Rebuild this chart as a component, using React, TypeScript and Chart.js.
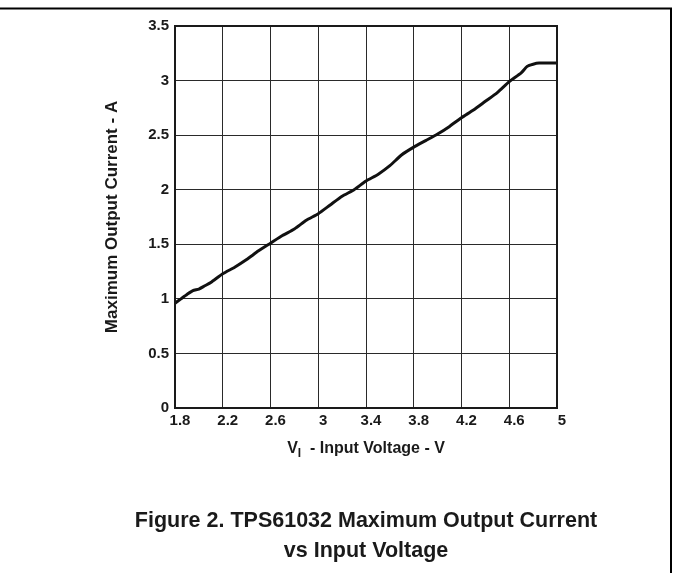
import React, { useEffect, useRef } from "react";
import { Chart, registerables } from "chart.js";

Chart.register(...registerables);

// ---- data ----
const inputVoltage = [
  1.8, 1.85, 1.9, 1.95, 2.0, 2.05, 2.1, 2.2, 2.3, 2.4, 2.5, 2.6, 2.7, 2.8, 2.9, 3.0,
  3.1, 3.2, 3.3, 3.4, 3.5, 3.6, 3.7, 3.8, 3.9, 4.0, 4.1, 4.2, 4.3, 4.4, 4.5, 4.6,
  4.7, 4.75, 4.8, 4.85, 5.0,
];
const outputCurrent = [
  0.96, 1.0, 1.04, 1.075, 1.09, 1.12, 1.15, 1.23, 1.29, 1.36, 1.44, 1.51, 1.58, 1.64, 1.72, 1.78,
  1.86, 1.94, 2.0, 2.08, 2.14, 2.22, 2.32, 2.39, 2.45, 2.51, 2.58, 2.66, 2.73, 2.81, 2.89, 2.99,
  3.07, 3.13, 3.15, 3.16, 3.16,
];
const xTickValues = [1.8, 2.2, 2.6, 3, 3.4, 3.8, 4.2, 4.6, 5];
const yTickValues = [0, 0.5, 1, 1.5, 2, 2.5, 3, 3.5];
const yAxisTitle = "Maximum Output Current - A";
const xAxisTitleMain = "V";
const xAxisTitleSub = "I";
const xAxisTitleRest = "  - Input Voltage - V";
const captionLines = ["Figure 2. TPS61032 Maximum Output Current", "vs Input Voltage"];

const FONT = "'Liberation Sans', Arial, Helvetica, sans-serif";
const INK = "#1a1a1a";

const decorPlugin = {
  id: "decor",
  afterDraw(chart: any) {
    const ctx = chart.ctx as CanvasRenderingContext2D;
    const area = chart.chartArea;
    ctx.save();
    // plot frame
    ctx.strokeStyle = INK;
    ctx.lineWidth = 2;
    ctx.strokeRect(area.left, area.top, area.right - area.left, area.bottom - area.top);

    // page border (top + right)
    ctx.lineWidth = 2;
    ctx.strokeStyle = "#000";
    ctx.beginPath();
    ctx.moveTo(0, 8.5);
    ctx.lineTo(671, 8.5);
    ctx.lineTo(671, 573);
    ctx.stroke();

    ctx.fillStyle = INK;
    const cx = (area.left + area.right) / 2;
    const cy = (area.top + area.bottom) / 2;

    // y title
    ctx.save();
    ctx.translate(112, cy);
    ctx.rotate(-Math.PI / 2);
    ctx.font = `bold 17px ${FONT}`;
    ctx.textAlign = "center";
    ctx.textBaseline = "middle";
    ctx.fillText(yAxisTitle, 0, 0);
    ctx.restore();

    // x title with subscript
    const base = 453;
    ctx.textAlign = "left";
    ctx.textBaseline = "alphabetic";
    ctx.font = `bold 16px ${FONT}`;
    const wV = ctx.measureText(xAxisTitleMain).width;
    const wRest = ctx.measureText(xAxisTitleRest).width;
    ctx.font = `bold 12px ${FONT}`;
    const wI = ctx.measureText(xAxisTitleSub).width;
    let x0 = cx - (wV + wI + wRest) / 2;
    ctx.font = `bold 16px ${FONT}`;
    ctx.fillText(xAxisTitleMain, x0, base);
    ctx.font = `bold 12px ${FONT}`;
    ctx.fillText(xAxisTitleSub, x0 + wV, base + 4);
    ctx.font = `bold 16px ${FONT}`;
    ctx.fillText(xAxisTitleRest, x0 + wV + wI, base);

    // caption
    ctx.font = `bold 21.5px ${FONT}`;
    ctx.textAlign = "center";
    ctx.textBaseline = "middle";
    ctx.fillText(captionLines[0], cx, 521);
    ctx.fillText(captionLines[1], cx, 551);
    ctx.restore();
  },
};

export default function App() {
  const ref = useRef<HTMLCanvasElement | null>(null);

  useEffect(() => {
    if (!ref.current) return;
    const tickFont = { family: FONT, size: 15, weight: "bold" as const };
    const chart = new Chart(ref.current, {
      type: "line",
      data: {
        datasets: [
          {
            data: inputVoltage.map((v, i) => ({ x: v, y: outputCurrent[i] })),
            borderColor: "#111",
            borderWidth: 3,
            pointRadius: 0,
            tension: 0.2,
            fill: false,
          },
        ],
      },
      options: {
        responsive: false,
        animation: false,
        events: [],
        layout: { padding: { top: 26, right: 116, left: 0, bottom: 0 } },
        plugins: { legend: { display: false }, tooltip: { enabled: false }, title: { display: false } },
        scales: {
          x: {
            type: "linear",
            min: xTickValues[0],
            max: xTickValues[xTickValues.length - 1],
            afterBuildTicks: (s: any) => {
              s.ticks = xTickValues.map((v) => ({ value: v }));
            },
            afterFit: (s: any) => {
              s.height = 165;
            },
            grid: { color: "#2a2a2a", lineWidth: 1, drawTicks: false },
            border: { display: true, color: INK, width: 2 },
            ticks: {
              padding: 4,
              labelOffset: 5,
              font: tickFont,
              color: INK,
              maxRotation: 0,
              autoSkip: false,
              callback: (v: any) => String(v),
            },
          },
          y: {
            type: "linear",
            min: yTickValues[0],
            max: yTickValues[yTickValues.length - 1],
            afterBuildTicks: (s: any) => {
              s.ticks = yTickValues.map((v) => ({ value: v }));
            },
            afterFit: (s: any) => {
              s.width = 175;
            },
            grid: { color: "#2a2a2a", lineWidth: 1, drawTicks: false },
            border: { display: true, color: INK, width: 2 },
            ticks: {
              padding: 6,
              font: tickFont,
              color: INK,
              autoSkip: false,
              callback: (v: any) => String(v),
            },
          },
        },
      },
      plugins: [decorPlugin],
    });
    return () => chart.destroy();
  }, []);

  return (
    <div style={{ position: "absolute", left: 0, top: 0, width: 673, height: 573, background: "#fff" }}>
      <canvas ref={ref} width={673} height={573} style={{ display: "block", width: 673, height: 573 }} />
    </div>
  );
}
